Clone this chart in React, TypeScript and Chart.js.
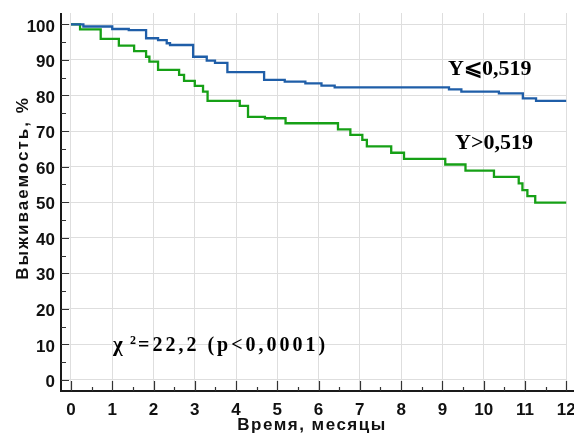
import React, { useEffect, useRef } from 'react';
import { Chart, registerables } from 'chart.js';

Chart.register(...registerables);

const monthTicks = [0, 1, 2, 3, 4, 5, 6, 7, 8, 9, 10, 11, 12];
const percentTicks = [0, 10, 20, 30, 40, 50, 60, 70, 80, 90, 100];
const minorMonthTicks = [0.5, 1.5, 2.5, 3.5, 4.5, 5.5, 6.5, 7.5, 8.5, 9.5, 10.5, 11.5];
const minorPercentTicks = [5, 15, 25, 35, 45, 55, 65, 75, 85, 95];

// Group Y <= 0.519 (blue)
const lowTimes = [0, 0.30, 1.00, 1.40, 1.82, 2.11, 2.32, 2.40, 2.96, 3.29, 3.49, 3.79, 4.68, 5.18, 5.68, 6.07, 6.39, 9.16, 9.46, 10.37, 10.95, 11.27, 12];
const lowSurvival = [100, 99.4, 98.7, 98.4, 96.1, 95.6, 94.7, 94.2, 90.9, 89.8, 89.2, 86.6, 84.4, 83.9, 83.4, 82.8, 82.3, 81.7, 81.1, 80.6, 79.2, 78.5, 78.5];

// Group Y > 0.519 (green)
const highTimes = [0, 0.22, 0.72, 1.16, 1.53, 1.82, 1.90, 2.11, 2.62, 2.74, 3.00, 3.20, 3.31, 4.09, 4.29, 4.70, 5.20, 6.47, 6.77, 7.06, 7.17, 7.76, 8.07, 9.07, 9.56, 10.25, 10.85, 10.94, 11.06, 11.25, 12];
const highSurvival = [100, 98.6, 95.9, 94.0, 92.5, 90.9, 89.5, 87.2, 85.8, 84.1, 82.7, 81.1, 78.5, 77.1, 74.0, 73.6, 72.2, 70.5, 68.9, 67.5, 65.7, 63.9, 62.2, 60.6, 58.9, 57.1, 55.3, 53.4, 51.7, 49.9, 49.9];

const seriesLabels = ['Y\u2A7D0,519', 'Y>0,519'];
const statText = ['\u03C7', '2', '=22,2 (p<0,0001)'];
const xTitle = 'Время, месяцы';
const yTitle = 'Выживаемость, %';

const SANS = '"Liberation Sans", Arial, sans-serif';
const SERIF = '"Liberation Serif", "Times New Roman", serif';

const toPoints = (xs: number[], ys: number[]) => xs.map((x, i) => ({ x, y: ys[i] }));

const decorPlugin = {
  id: 'decor',
  afterDraw(chart: any) {
    const ctx = chart.ctx as CanvasRenderingContext2D;
    const xs = chart.scales.x;
    const ys = chart.scales.y;
    const area = chart.chartArea;
    ctx.save();
    // axis lines
    ctx.strokeStyle = '#1a1a1a';
    ctx.lineWidth = 2;
    ctx.beginPath();
    ctx.moveTo(area.left, area.top);
    ctx.lineTo(area.left, area.bottom);
    ctx.lineTo(chart.width, area.bottom);
    ctx.stroke();
    // tick marks
    ctx.lineWidth = 1.2;
    ctx.strokeStyle = '#333';
    ctx.beginPath();
    percentTicks.forEach((v) => {
      const y = Math.round(ys.getPixelForValue(v)) + 0.5;
      ctx.moveTo(area.left, y);
      ctx.lineTo(area.left + 8, y);
    });
    minorPercentTicks.forEach((v) => {
      const y = Math.round(ys.getPixelForValue(v)) + 0.5;
      ctx.moveTo(area.left, y);
      ctx.lineTo(area.left + 5, y);
    });
    monthTicks.forEach((v) => {
      const x = Math.round(xs.getPixelForValue(v)) + 0.5;
      ctx.moveTo(x, area.bottom);
      ctx.lineTo(x, area.bottom - 10);
    });
    minorMonthTicks.forEach((v) => {
      const x = Math.round(xs.getPixelForValue(v)) + 0.5;
      ctx.moveTo(x, area.bottom);
      ctx.lineTo(x, area.bottom - 4);
    });
    ctx.stroke();

    // axis titles
    ctx.fillStyle = '#111';
    ctx.font = `bold 17px ${SANS}`;
    ctx.textAlign = 'center';
    ctx.textBaseline = 'alphabetic';
    (ctx as any).letterSpacing = '1.5px';
    ctx.fillText(xTitle, 312, 430);
    ctx.save();
    ctx.translate(28, 188);
    ctx.rotate(-Math.PI / 2);
    (ctx as any).letterSpacing = '2px';
    ctx.fillText(yTitle, 0, 0);
    ctx.restore();
    (ctx as any).letterSpacing = '0px';

    // series labels
    ctx.fillStyle = '#000';
    ctx.font = `bold 22px ${SERIF}`;
    ctx.textAlign = 'left';
    ctx.fillText(seriesLabels[0], 448, 75);
    ctx.fillText(seriesLabels[1], 455, 149);

    // statistic
    ctx.font = `bold 21px ${SERIF}`;
    ctx.fillText(statText[0], 113, 351);
    ctx.font = `bold 12px ${SERIF}`;
    ctx.fillText(statText[1], 130, 344);
    ctx.font = `bold 20px ${SERIF}`;
    (ctx as any).letterSpacing = '3px';
    ctx.fillText(statText[2], 138, 351);
    (ctx as any).letterSpacing = '0px';
    ctx.restore();
  },
};

export default function App() {
  const ref = useRef<HTMLCanvasElement | null>(null);
  useEffect(() => {
    if (!ref.current) return;
    const chart = new Chart(ref.current, {
      type: 'line',
      data: {
        datasets: [
          {
            label: seriesLabels[0],
            data: toPoints(lowTimes, lowSurvival),
            borderColor: '#1f5ea8',
            borderWidth: 2.3,
            pointRadius: 0,
            stepped: 'before',
            fill: false,
          },
          {
            label: seriesLabels[1],
            data: toPoints(highTimes, highSurvival),
            borderColor: '#16a016',
            borderWidth: 2.3,
            pointRadius: 0,
            stepped: 'before',
            fill: false,
          },
        ],
      },
      options: {
        animation: false,
        responsive: false,
        devicePixelRatio: 1,
        layout: { padding: { left: 0, right: 7, top: 13, bottom: 0 } },
        plugins: { legend: { display: false }, tooltip: { enabled: false } },
        scales: {
          x: {
            type: 'linear',
            min: -0.242,
            max: 12.02,
            afterBuildTicks: (s: any) => {
              s.ticks = monthTicks.map((v) => ({ value: v }));
            },
            afterFit: (s: any) => {
              s.height = 43;
              s.paddingLeft = 0;
              s.paddingRight = 0;
            },
            grid: { color: '#dedede', lineWidth: 1, drawTicks: false },
            border: { display: false },
            ticks: {
              padding: 9,
              color: '#111',
              font: { family: SANS, size: 17, weight: 'bold' },
              maxRotation: 0,
              autoSkip: false,
            },
          },
          y: {
            type: 'linear',
            min: -3.1,
            max: 103.2,
            afterBuildTicks: (s: any) => {
              s.ticks = percentTicks.map((v) => ({ value: v }));
            },
            afterFit: (s: any) => {
              s.width = 61;
              s.paddingTop = 0;
              s.paddingBottom = 0;
            },
            grid: { color: '#dedede', lineWidth: 1, drawTicks: false },
            border: { display: false },
            ticks: {
              padding: 6,
              labelOffset: 2.5,
              color: '#111',
              font: { family: SANS, size: 17, weight: 'bold' },
              autoSkip: false,
            },
          },
        },
      },
      plugins: [decorPlugin],
    } as any);
    return () => chart.destroy();
  }, []);
  return (
    <div style={{ position: 'absolute', left: 0, top: 0, width: 574, height: 434, background: '#fff' }}>
      <canvas ref={ref} width={574} height={434} style={{ width: 574, height: 434, display: 'block' }} />
    </div>
  );
}
